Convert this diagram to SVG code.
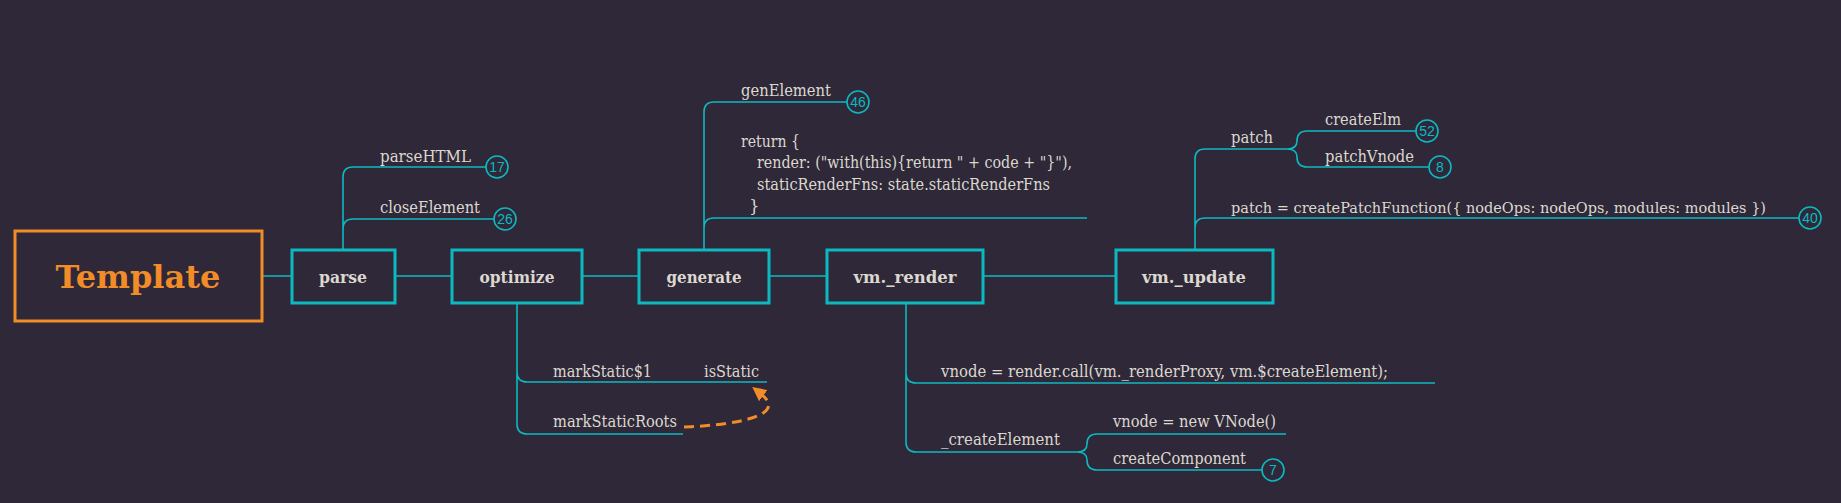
<svg xmlns="http://www.w3.org/2000/svg" width="1841" height="503" viewBox="0 0 1841 503">
<defs>
<style>
.bg{fill:#2e2838}
.box{fill:#2e2838;stroke:#0cb9c1;stroke-width:3}
.root{fill:#2e2838;stroke:#f28c28;stroke-width:3}
.ln{fill:none;stroke:#0cb9c1;stroke-width:1.6}
.t{font-family:'DejaVu Serif',serif;font-size:16.5px;fill:#dcd8d0}
.bt{font-family:'DejaVu Serif',serif;font-size:17.5px;font-weight:bold;fill:#dcd8d0;text-anchor:middle}
.rt{font-family:'DejaVu Serif',serif;font-size:32px;font-weight:bold;fill:#f28c28;text-anchor:middle}
.c{fill:#2e2838;stroke:#0cb9c1;stroke-width:1.6}
.ct{font-family:'Liberation Sans',sans-serif;font-size:14px;fill:#0cb9c1;text-anchor:middle}
.dash{fill:none;stroke:#f28c28;stroke-width:3;stroke-dasharray:10 6}
</style>
<marker id="ah" viewBox="0 0 10 10" refX="3" refY="5" markerWidth="14" markerHeight="14" markerUnits="userSpaceOnUse" orient="auto">
<path d="M0,0 L10,5 L0,10 z" fill="#f28c28"/>
</marker>
</defs>
<rect class="bg" x="0" y="0" width="1841" height="503"/>
<g id="connectors">
<path class="ln" d="M262,276 H292 M395,276 H452 M582,276 H639 M769,276 H827 M983,276 H1116"/>
<path class="ln" d="M343,250 V177 Q343,167 353,167 H486 M343,229 Q343,219 353,219 H494"/>
<path class="ln" d="M704,250 V112 Q704,102 714,102 H847 M704,228 Q704,218 714,218 H1087"/>
<path class="ln" d="M517,303 V372 Q517,382 527,382 H767 M517,372 V424 Q517,434 527,434 H683"/>
<path class="ln" d="M906,303 V373 Q906,383 916,383 H1435 M906,373 V442 Q906,452 916,452 H1077 Q1087,452 1087,444 Q1087,434 1097,434 H1286 M1077,452 Q1087,452 1087,460 Q1087,470 1097,470 H1262"/>
<path class="ln" d="M1195,250 V159 Q1195,149 1205,149 H1287 Q1297,149 1297,141 Q1297,131 1307,131 H1416 M1287,149 Q1297,149 1297,157 Q1297,167 1307,167 H1429 M1195,228 Q1195,218 1205,218 H1799"/>
<path class="dash" d="M684,427 C735,425 790,416 760,393" marker-end="url(#ah)"/>
</g>
<g id="template"><rect class="root" x="15" y="231" width="247" height="90"/><text class="rt" x="138" y="288">Template</text></g>
<g id="parse"><rect class="box" x="292" y="250" width="103" height="53"/><text class="bt" x="343" y="283" textLength="48" lengthAdjust="spacingAndGlyphs">parse</text></g>
<g id="optimize"><rect class="box" x="452" y="250" width="130" height="53"/><text class="bt" x="517" y="283" textLength="75" lengthAdjust="spacingAndGlyphs">optimize</text></g>
<g id="generate"><rect class="box" x="639" y="250" width="130" height="53"/><text class="bt" x="704" y="283" textLength="75" lengthAdjust="spacingAndGlyphs">generate</text></g>
<g id="vm_render"><rect class="box" x="827" y="250" width="156" height="53"/><text class="bt" x="905" y="283" textLength="103" lengthAdjust="spacingAndGlyphs">vm._render</text></g>
<g id="vm_update"><rect class="box" x="1116" y="250" width="157" height="53"/><text class="bt" x="1194" y="283" textLength="104" lengthAdjust="spacingAndGlyphs">vm._update</text></g>
<g id="parseHTML"><text class="t" x="380" y="162" textLength="91" lengthAdjust="spacingAndGlyphs">parseHTML</text><circle class="c" cx="497" cy="167" r="11"/><text class="ct" x="497" y="172">17</text></g>
<g id="closeElement"><text class="t" x="380" y="213" textLength="100" lengthAdjust="spacingAndGlyphs">closeElement</text><circle class="c" cx="505" cy="219" r="11"/><text class="ct" x="505" y="224">26</text></g>
<g id="genElement"><text class="t" x="741" y="96" textLength="90" lengthAdjust="spacingAndGlyphs">genElement</text><circle class="c" cx="858" cy="102" r="11"/><text class="ct" x="858" y="107">46</text></g>
<g id="returnCode"><text class="t" x="741" y="147" textLength="59" lengthAdjust="spacingAndGlyphs">return {</text><text class="t" x="757" y="168" textLength="315" lengthAdjust="spacingAndGlyphs">render: ("with(this){return " + code + "}"),</text><text class="t" x="757" y="190" textLength="293" lengthAdjust="spacingAndGlyphs">staticRenderFns: state.staticRenderFns</text><text class="t" x="749" y="212">}</text></g>
<g id="markStatic"><text class="t" x="553" y="377" textLength="99" lengthAdjust="spacingAndGlyphs">markStatic$1</text><text class="t" x="704" y="377" textLength="55" lengthAdjust="spacingAndGlyphs">isStatic</text></g>
<g id="markStaticRoots"><text class="t" x="553" y="427" textLength="124" lengthAdjust="spacingAndGlyphs">markStaticRoots</text></g>
<g id="renderCall"><text class="t" x="941" y="377" textLength="447" lengthAdjust="spacingAndGlyphs">vnode = render.call(vm._renderProxy, vm.$createElement);</text></g>
<g id="createElement"><text class="t" x="941" y="445" textLength="119" lengthAdjust="spacingAndGlyphs">_createElement</text></g>
<g id="newVNode"><text class="t" x="1113" y="427" textLength="163" lengthAdjust="spacingAndGlyphs">vnode = new VNode()</text></g>
<g id="createComponent"><text class="t" x="1113" y="464" textLength="133" lengthAdjust="spacingAndGlyphs">createComponent</text><circle class="c" cx="1273" cy="470" r="11"/><text class="ct" x="1273" y="475">7</text></g>
<g id="patch"><text class="t" x="1231" y="143" textLength="42" lengthAdjust="spacingAndGlyphs">patch</text></g>
<g id="createElm"><text class="t" x="1325" y="125" textLength="76" lengthAdjust="spacingAndGlyphs">createElm</text><circle class="c" cx="1427" cy="131" r="11"/><text class="ct" x="1427" y="136">52</text></g>
<g id="patchVnode"><text class="t" x="1325" y="162" textLength="89" lengthAdjust="spacingAndGlyphs">patchVnode</text><circle class="c" cx="1440" cy="167" r="11"/><text class="ct" x="1440" y="172">8</text></g>
<g id="createPatchFunction"><text class="t" x="1231" y="213" font-size="15" style="font-size:15px" textLength="535" lengthAdjust="spacingAndGlyphs">patch = createPatchFunction({ nodeOps: nodeOps, modules: modules })</text><circle class="c" cx="1810" cy="218" r="11"/><text class="ct" x="1810" y="223">40</text></g>
</svg>
